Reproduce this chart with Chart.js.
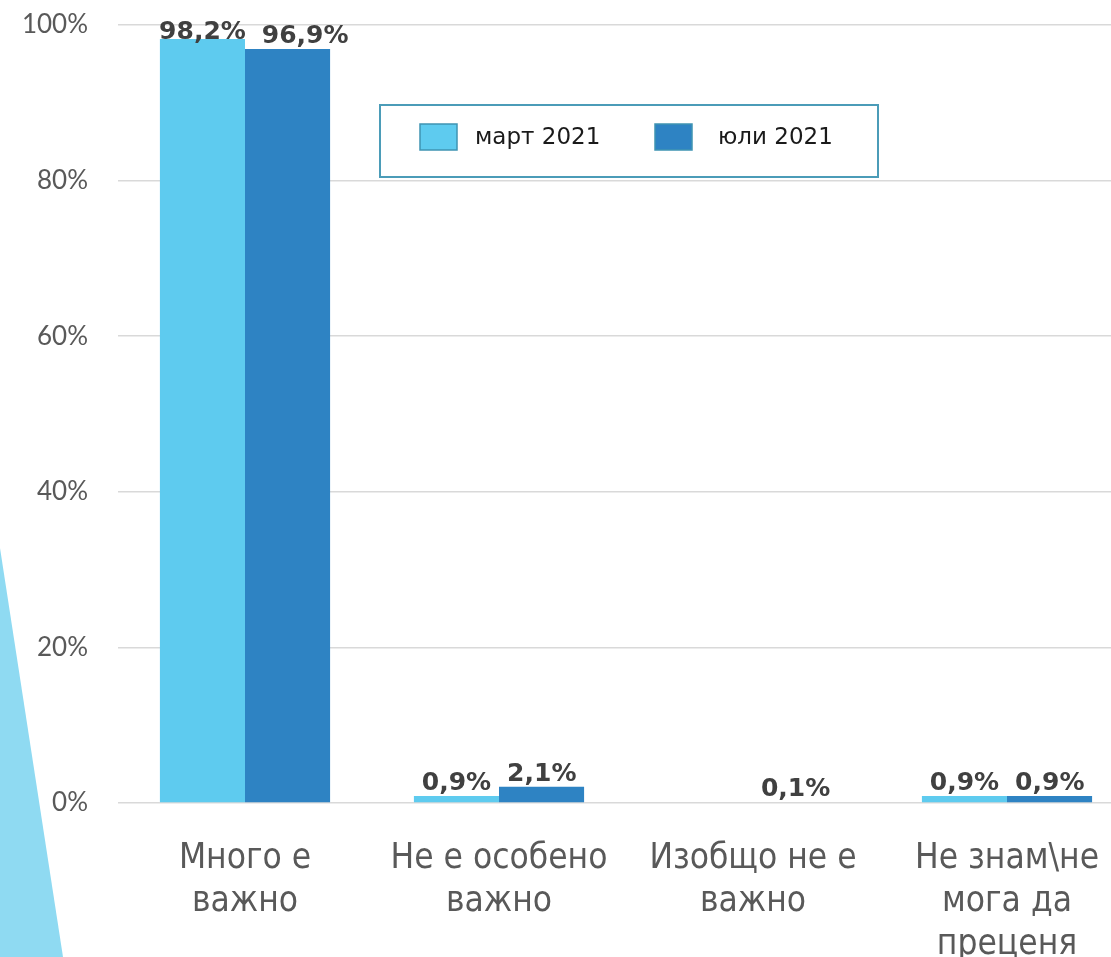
<html>
<head>
<meta charset="utf-8">
<title>Колко е важно</title>
<script src="https://cdn.jsdelivr.net/npm/chart.js@4.4.0/dist/chart.umd.min.js"></script>
<style>
  html, body { margin: 0; padding: 0; background: #fff; overflow: hidden; }
  #wrap { position: relative; width: 1134px; height: 957px; }
</style>
</head>
<body>
<div id="wrap">
  <canvas id="myChart" width="1134" height="957"></canvas>
</div>
<script>
// data
var categories = [
    ["Много е", "важно"],
    ["Не е особено", "важно"],
    ["Изобщо не е", "важно"],
    ["Не знам\\не", "мога да", "преценя"]
];
var seriesNames = ["март 2021", "юли 2021"];
var march2021 = [98.2, 0.9, 0, 0.9];
var july2021 = [96.9, 2.1, 0.1, 0.9];
var yTicks = [0, 20, 40, 60, 80, 100];

var colLight = "#5ecbef";
var colDark = "#2e83c3";

// the light blue wedge on the left edge
var wedge = {
    id: 'wedge',
    beforeDraw: function(chart) {
        var c = chart.ctx;
        c.save();
        c.fillStyle = "#8fdaf2";
        c.beginPath();
        c.moveTo(0, 548);
        c.lineTo(63, 957);
        c.lineTo(0, 957);
        c.closePath();
        c.fill();
        c.restore();
    }
};

// value labels above the bars, pushed right when two in a group would touch
var valueLabels = {
    id: 'valueLabels',
    afterDatasetsDraw: function(chart) {
        var c = chart.ctx;
        c.save();
        c.font = "bold 25px 'DejaVu Sans'";
        c.fillStyle = "#404040";
        c.textAlign = "center";
        c.textBaseline = "alphabetic";
        var prevRight = [];
        chart.data.datasets.forEach(function(ds, i) {
            var meta = chart.getDatasetMeta(i);
            meta.data.forEach(function(bar, j) {
                var v = ds.data[j];
                if (!v) return;
                var txt = v.toFixed(1).replace('.', ',') + '%';
                var w = c.measureText(txt).width;
                var x = bar.x;
                if (prevRight[j] !== undefined && x - w / 2 < prevRight[j] + 16) {
                    x = prevRight[j] + 16 + w / 2;
                }
                prevRight[j] = x + w / 2;
                var y = Math.max(bar.y - 6, chart.chartArea.top + 14);
                c.fillText(txt, x, y);
            });
        });
        c.restore();
    }
};

// boxed legend in the upper middle
var boxLegend = {
    id: 'boxLegend',
    afterDraw: function(chart) {
        var c = chart.ctx;
        c.save();
        c.fillStyle = "#fff";
        c.fillRect(380, 105, 498, 72);
        c.strokeStyle = "#4b9cb8";
        c.lineWidth = 2;
        c.strokeRect(380, 105, 498, 72);
        var xs = [420, 655];
        var tx = [475, 718];
        c.font = "23px 'DejaVu Sans'";
        c.textBaseline = "middle";
        chart.data.datasets.forEach(function(ds, i) {
            c.fillStyle = ds.backgroundColor;
            c.fillRect(xs[i], 124, 37, 26);
            c.strokeStyle = "#3f94b3";
            c.lineWidth = 1.5;
            c.strokeRect(xs[i], 124, 37, 26);
            c.fillStyle = "#1a1a1a";
            c.fillText(ds.label, tx[i], 138);
        });
        c.restore();
    }
};

var ctx = document.getElementById('myChart').getContext('2d');
var myChart = new Chart(ctx, {
    type: 'bar',
    data: {
        labels: categories,
        datasets: [
            {
                label: seriesNames[0],
                data: march2021,
                backgroundColor: colLight,
                barPercentage: 1.0,
                categoryPercentage: 0.67
            },
            {
                label: seriesNames[1],
                data: july2021,
                backgroundColor: colDark,
                barPercentage: 1.0,
                categoryPercentage: 0.67
            }
        ]
    },
    options: {
        responsive: false,
        animation: false,
        layout: { padding: { left: 0, right: 0, top: 25, bottom: 0 } },
        plugins: {
            legend: { display: false },
            tooltip: { enabled: false }
        },
        scales: {
            x: {
                grid: { display: false },
                border: { display: false },
                ticks: {
                    color: "#595959",
                    font: { family: "'DejaVu Sans Condensed'", size: 35, lineHeight: 1.23 },
                    padding: 26,
                    maxRotation: 0,
                    autoSkip: false
                },
                afterFit: function(scale) { scale.height = 154; }
            },
            y: {
                min: 0,
                max: 100,
                afterBuildTicks: function(scale) {
                    scale.ticks = yTicks.map(function(v) { return { value: v }; });
                },
                grid: { color: "#d9d9d9", lineWidth: 1.5, drawTicks: false },
                border: { display: false },
                ticks: {
                    color: "#595959",
                    font: { family: "Lato", size: 26 },
                    padding: 30,
                    callback: function(v) { return v + '%'; }
                },
                afterFit: function(scale) {
                    scale.width = 118;
                    scale.paddingTop = 0;
                    scale.paddingBottom = 0;
                }
            }
        }
    },
    plugins: [wedge, valueLabels, boxLegend]
});
</script>
</body>
</html>
